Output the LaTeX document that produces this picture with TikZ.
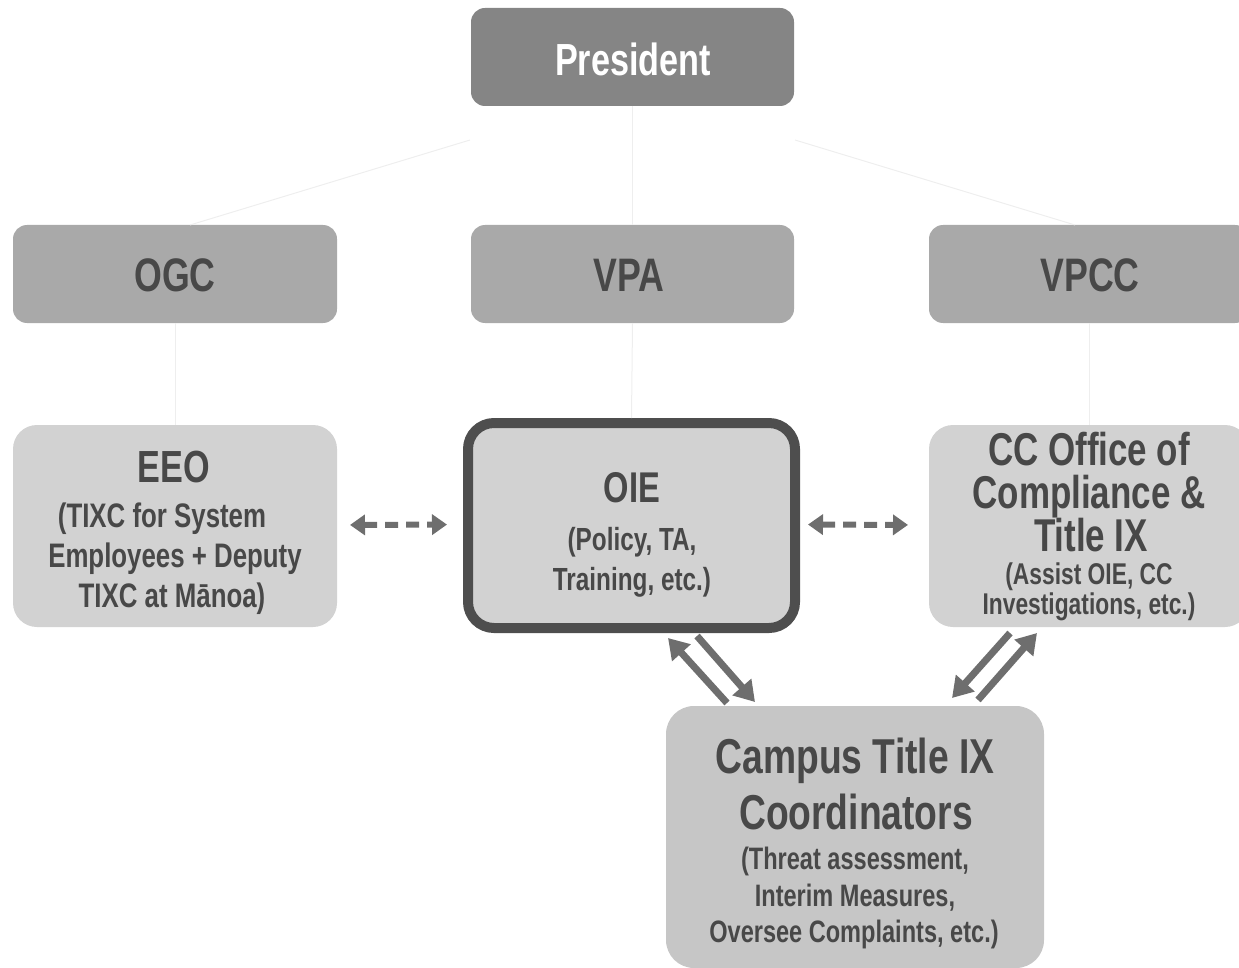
\documentclass[tikz,border=0pt]{standalone}
\usepackage{fontspec}
\setmainfont{Liberation Sans}[FakeStretch=0.76]
\usetikzlibrary{arrows.meta}
\definecolor{presfill}{HTML}{858585}
\definecolor{topfill}{HTML}{A9A9A9}
\definecolor{lowfill}{HTML}{D2D2D2}
\definecolor{campfill}{HTML}{C6C6C6}
\definecolor{txt}{HTML}{484848}
\definecolor{arr}{HTML}{6E6E6E}
\definecolor{faint}{HTML}{EEEEEE}
\definecolor{oieborder}{HTML}{4E4E4E}
\tikzset{
  box/.style={rounded corners=14pt, inner sep=0pt, outer sep=0pt},
  txtline/.style={anchor=base, inner sep=0pt, text=txt},
  faintline/.style={draw=faint, line width=1pt},
  dasharrow/.style={draw=arr, line width=6pt, dash pattern=on 13pt off 8pt,
    {Triangle[length=15pt,width=20pt]}-{Triangle[length=15pt,width=20pt]}},
  fatarrow/.style={draw=arr, line width=7pt, -{Triangle[length=20pt,width=24pt]}}
}
\begin{document}
\begin{tikzpicture}[x=1pt,y=-1pt,every node/.append style={font=\bfseries}]
\useasboundingbox (0,0) rectangle (1239,968);
% boxes
\node[box, fill=presfill, minimum width=323pt, minimum height=98pt] (pres) at (632.5,57) {};
\node[box, fill=topfill, minimum width=324pt, minimum height=98pt] (ogc) at (175,274) {};
\node[box, fill=topfill, minimum width=323pt, minimum height=98pt] (vpa) at (632.5,274) {};
\node[box, fill=topfill, minimum width=320pt, minimum height=98pt] (vpcc) at (1089,274) {};
\node[box, fill=lowfill, minimum width=324pt, minimum height=202pt, rounded corners=24pt] (eeo) at (175,526) {};
\node[box, fill=lowfill, minimum width=320pt, minimum height=202pt, rounded corners=24pt] (cc) at (1089,526) {};
\node[box, fill=lowfill, draw=oieborder, line width=10pt, minimum width=327pt, minimum height=205pt, rounded corners=26pt, outer sep=5pt] (oie) at (631.5,525.5) {};
\node[box, fill=campfill, minimum width=378pt, minimum height=262pt, rounded corners=28pt] (camp) at (855,837) {};
% faint connectors
\coordinate (pl) at (470,140);
\coordinate (pr) at (795,140);
\draw[faintline] (pl) -- (190,225);
\draw[faintline] (pr) -- (1075,225);
\draw[faintline] (pres.south) -- (vpa.north);
\draw[faintline] (ogc.south) -- (eeo.north);
\draw[faintline] (vpa.south) -- (oie.north);
\draw[faintline] (vpcc.south) -- (cc.north);
% dashed arrows
\draw[dasharrow, shorten <=13pt, shorten >=16pt] ([yshift=1pt]eeo.east) -- ([yshift=1pt]oie.west);
\draw[dasharrow, shorten <=8pt, shorten >=21pt] ([yshift=1pt]oie.east) -- ([yshift=1pt]cc.west);
% diagonal arrows
\coordinate (a1s) at (727,703); \coordinate (a1e) at (668,638);
\coordinate (a2s) at (697,636); \coordinate (a2e) at (755,702);
\coordinate (a3s) at (1010,633); \coordinate (a3e) at (952,698);
\coordinate (a4s) at (978,700); \coordinate (a4e) at (1037,633);
\draw[fatarrow] (a1s) -- (a1e);
\draw[fatarrow] (a2s) -- (a2e);
\draw[fatarrow] (a3s) -- (a3e);
\draw[fatarrow] (a4s) -- (a4e);
% texts
\node[txtline, text=white, font=\fontsize{45}{45}\selectfont\bfseries] (tpres) at (633,76) {President};
\node[txtline, font=\fontsize{47}{47}\selectfont\bfseries] (togc) at (175,291) {OGC};
\node[txtline, font=\fontsize{47}{47}\selectfont\bfseries] (tvpa) at (629,291) {VPA};
\node[txtline, font=\fontsize{47}{47}\selectfont\bfseries] (tvpcc) at (1090,291) {VPCC};
% EEO
\node[txtline, font=\fontsize{45}{45}\selectfont\bfseries] (teeo) at (174,482) {EEO};
\node[txtline, font=\fontsize{34}{34}\selectfont\bfseries] (teeo1) at (162,527) {(TIXC for System};
\node[txtline, font=\fontsize{34}{34}\selectfont\bfseries] (teeo2) at (175,567) {Employees + Deputy};
\node[txtline, font=\fontsize{34}{34}\selectfont\bfseries] (teeo3) at (172,607) {TIXC at Mānoa)};
% OIE
\node[txtline, font=\fontsize{43}{43}\selectfont\bfseries] (toie) at (632,502) {OIE};
\node[txtline, font=\fontsize{32}{32}\selectfont\bfseries] (toie1) at (632,550) {(Policy, TA,};
\node[txtline, font=\fontsize{32}{32}\selectfont\bfseries] (toie2) at (632,590) {Training, etc.)};
% CC
\node[txtline, font=\fontsize{46}{46}\selectfont\bfseries] (tcc1) at (1089,465) {CC Office of};
\node[txtline, font=\fontsize{46}{46}\selectfont\bfseries] (tcc2) at (1089,508) {Compliance \&};
\node[txtline, font=\fontsize{46}{46}\selectfont\bfseries] (tcc3) at (1091,551) {Title IX};
\node[txtline, font=\fontsize{30}{30}\selectfont\bfseries] (tcc4) at (1089,584) {(Assist OIE, CC};
\node[txtline, font=\fontsize{30}{30}\selectfont\bfseries] (tcc5) at (1089,614) {Investigations, etc.)};
% Campus
\node[txtline, font=\fontsize{49}{49}\selectfont\bfseries] (tca1) at (855,773) {Campus Title IX};
\node[txtline, font=\fontsize{49}{49}\selectfont\bfseries] (tca2) at (856,829) {Coordinators};
\node[txtline, font=\fontsize{31}{31}\selectfont\bfseries] (tca3) at (855,869) {(Threat assessment,};
\node[txtline, font=\fontsize{31}{31}\selectfont\bfseries] (tca4) at (855,906) {Interim Measures,};
\node[txtline, font=\fontsize{31}{31}\selectfont\bfseries] (tca5) at (854,942) {Oversee Complaints, etc.)};
\end{tikzpicture}
\end{document}
